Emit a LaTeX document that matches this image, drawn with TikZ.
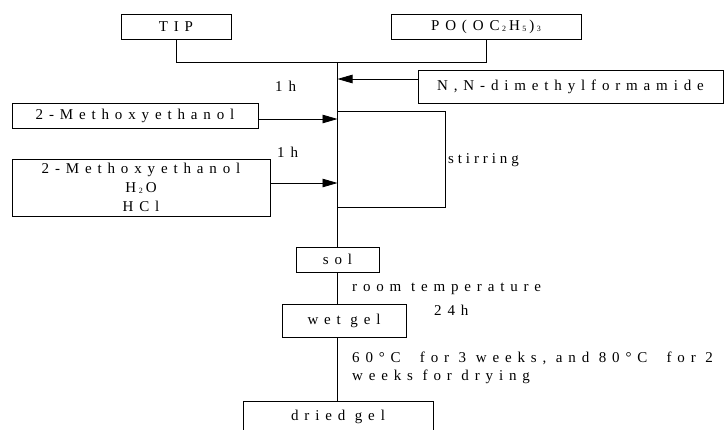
\documentclass[tikz,border=0pt]{standalone}
\usepackage{fontspec}
\setmainfont{Liberation Serif}[LetterSpace=39]
\usetikzlibrary{arrows.meta}
\newcommand{\lsub}[1]{\hspace{2.5pt}\raisebox{-1pt}{\footnotesize #1}\hspace{3pt}}
\begin{document}
\begin{tikzpicture}[x=1pt,y=-1pt,
  box/.style={draw,line width=1pt,inner sep=0pt,font=\fontsize{15}{17}\selectfont},
  lab/.style={inner sep=0pt,anchor=west,font=\fontsize{15}{17}\selectfont},
  ln/.style={line width=1pt},
  arr/.style={line width=0.8pt,-{Triangle[length=15pt,width=8.5pt]}}]
\useasboundingbox (0,0) rectangle (725,429);
\clip (0,0) rectangle (725,429);
\node[box,minimum width=110pt,minimum height=25pt] (tip) at (176,26.5) {TIP};
\node[box,minimum width=190pt,minimum height=25pt] (po) at (486,26.5) {PO(OC\lsub{2}H\lsub{5})\lsub{3}};
\node[box,minimum width=305pt,minimum height=33pt] (dmf) at (570.5,86.5) {N,N-dimethylformamide};
\node[box,minimum width=246pt,minimum height=25pt] (meo) at (135,115.5) {2-Methoxyethanol};
\node[box,minimum width=258pt,minimum height=57pt,align=center,font=\fontsize{15}{19}\selectfont] (mix) at (141,187.5) {2-Methoxyethanol\\H\lsub{2}O\\HCl};
\node[box,minimum width=83pt,minimum height=25pt] (sol) at (337.5,259.5) {sol};
\node[box,minimum width=124pt,minimum height=33pt] (wet) at (344,320.5) {wet gel};
\node[box,minimum width=190pt,minimum height=32pt] (dried) at (338,417) {dried gel};
\coordinate (j) at (337.5,62);
\coordinate (a1) at (337.5,79);
\coordinate (a2) at (337.5,119);
\coordinate (a3) at (337.5,183);
\coordinate (s1) at (337.5,111);
\coordinate (s2) at (445,207);
\draw[ln] (tip.south) |- (j);
\draw[ln] (po.south) |- (j);
\draw[ln] (j) -- (j |- sol.north);
\draw[ln] (j |- sol.south) -- (j |- wet.north);
\draw[ln] (j |- wet.south) -- (j |- dried.north);
\draw[arr] (dmf.west |- a1) -- (a1);
\draw[arr] (meo.east |- a2) -- (a2);
\draw[arr] (mix.east |- a3) -- (a3);
\draw[ln] (s1) -| (s2) -- (s2 -| s1);
\node[lab] (h1) at (275,86) {1h};
\node[lab] (h2) at (277,152) {1h};
\node[lab] (stir) at (448,160) {\addfontfeatures{LetterSpace=26}stirring};
\node[lab] (rt) at (352,289) {room temperature};
\node[lab] (t24) at (434,310) {24h};
\node[lab] (dry1) at (352,358) {60°C\ \ for 3 weeks, and 80°C\ \ for 2};
\node[lab] (dry2) at (352,377) {weeks for drying};
\end{tikzpicture}
\end{document}
